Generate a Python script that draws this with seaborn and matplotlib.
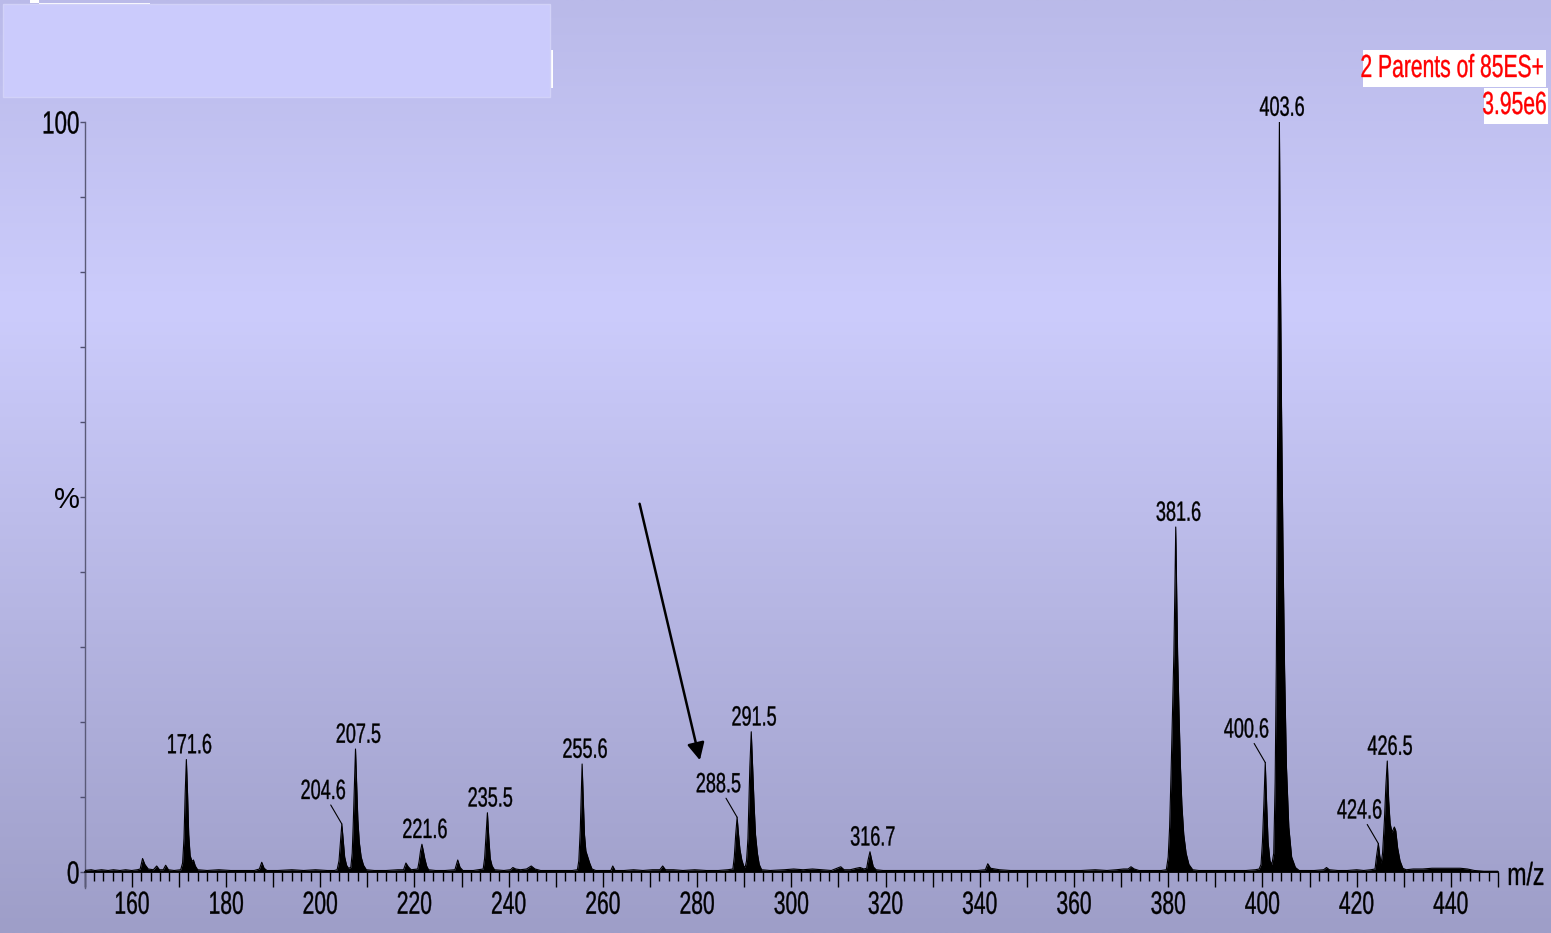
import numpy as np
import pandas as pd
import matplotlib
matplotlib.use("Agg")
import matplotlib.pyplot as plt
from matplotlib.patches import Rectangle
from matplotlib.patheffects import AbstractPathEffect
from matplotlib.transforms import Affine2D
import seaborn as sns

# ---- spectrum profile (m/z, relative intensity %) ----
profile_mz = [
    150.0, 151.4, 152.2, 153.6, 155.0, 156.1, 157.5, 158.7, 160.0, 161.2,
    161.8, 162.3, 162.8, 163.5, 164.6, 165.3, 165.9, 166.7, 167.2, 167.8, 169.0,
    170.4, 170.8, 171.1, 171.35, 171.6, 171.85, 172.1, 172.4, 172.8, 173.1, 173.5, 174.0,
    176.0, 178.5, 181.0, 183.5, 186.0, 187.1, 187.6, 188.1, 188.7,
    191.0, 194.0, 196.5, 199.0, 201.5, 203.0,
    203.6, 204.0, 204.3, 204.6, 204.9, 205.2, 205.6, 206.0,
    206.5, 206.8, 207.0, 207.25, 207.5, 207.75, 208.0, 208.3, 208.7, 209.2, 209.8,
    211.5, 214.0, 216.5, 217.7, 218.2, 218.7, 219.3,
    220.7, 221.0, 221.3, 221.6, 221.9, 222.2, 222.6, 223.0,
    224.5, 226.5, 228.6, 229.2, 229.7, 230.3, 232.5,
    234.6, 234.9, 235.2, 235.5, 235.8, 236.1, 236.5, 237.0,
    239.0, 240.4, 240.9, 241.5, 242.5, 243.8, 244.8, 245.6, 246.8, 248.5, 251.0, 253.5,
    254.6, 254.9, 255.2, 255.4, 255.6, 255.85, 256.1, 256.4, 256.8, 257.2, 257.7,
    258.5, 260.5, 261.7, 262.1, 262.6, 264.5, 266.5, 268.5, 270.5, 272.1, 272.7, 273.3, 275.0,
    277.0, 279.5, 282.0, 284.5, 286.5,
    287.6, 287.9, 288.2, 288.5, 288.8, 289.1, 289.5, 289.9, 290.2,
    290.5, 290.8, 291.0, 291.2, 291.5, 291.8, 292.1, 292.4, 292.8, 293.2, 293.7,
    295.5, 298.5, 300.5, 302.5, 304.5, 306.5, 308.5, 310.5, 311.2, 312.5, 313.8, 314.6, 315.4,
    316.0, 316.3, 316.7, 317.0, 317.4, 318.0, 319.5,
    322.0, 325.0, 328.0, 331.0, 334.0, 337.0, 339.5, 341.2, 341.7, 342.3, 343.2, 344.2,
    346.5, 349.5, 352.5, 355.5, 358.5, 361.5, 364.5, 367.0, 369.0, 370.5, 371.5, 372.1,
    372.8, 373.8, 376.0, 378.5,
    379.6, 380.0, 380.3, 380.6, 380.9, 381.2, 381.4, 381.6, 381.8, 382.0, 382.3, 382.6,
    382.9, 383.3, 383.8, 384.4, 385.2,
    386.5, 389.0, 391.5, 394.0, 396.5, 398.5, 399.3,
    399.7, 400.0, 400.3, 400.6, 400.9, 401.2, 401.6, 402.0,
    402.4, 402.7, 402.95, 403.15, 403.4, 403.6, 403.8, 404.05, 404.35, 404.7, 405.1,
    405.6, 406.2, 407.0, 407.8,
    409.0, 411.0, 413.0, 413.6, 414.2, 416.0, 418.0, 420.0, 421.5, 423.0,
    423.9, 424.2, 424.6, 424.9, 425.2, 425.5, 425.9, 426.2, 426.5, 426.8, 427.1, 427.5,
    428.0, 428.3, 428.7, 429.2, 429.8,
    430.5, 432.0, 434.0, 436.0, 438.0, 440.0, 442.0, 443.5, 445.0, 447.0, 450.0,
]
profile_pct = [
    0.2, 0.3, 0.2, 0.3, 0.2, 0.3, 0.2, 0.3, 0.2, 0.3,
    0.4, 1.8, 1.0, 0.4, 0.3, 0.8, 0.3, 0.3, 0.9, 0.3, 0.2,
    0.3, 1.2, 4.5, 10.5, 15.0, 10.5, 5.0, 2.2, 1.4, 1.6, 0.8, 0.3,
    0.2, 0.3, 0.2, 0.2, 0.2, 0.4, 1.3, 0.5, 0.2,
    0.2, 0.3, 0.2, 0.3, 0.2, 0.2,
    0.3, 1.5, 4.0, 6.4, 4.2, 2.0, 0.9, 0.5,
    0.6, 2.5, 6.0, 11.0, 16.4, 11.5, 7.0, 4.0, 2.0, 0.9, 0.3,
    0.2, 0.2, 0.3, 0.3, 1.2, 0.7, 0.3,
    0.4, 1.4, 2.8, 3.7, 2.8, 1.8, 0.8, 0.3,
    0.2, 0.2, 0.3, 1.6, 0.6, 0.2, 0.2,
    0.4, 1.8, 4.8, 7.9, 4.5, 1.8, 0.8, 0.3,
    0.2, 0.3, 0.6, 0.4, 0.3, 0.4, 0.8, 0.4, 0.2, 0.2, 0.2, 0.2,
    0.3, 1.5, 5.5, 10.0, 14.4, 9.5, 5.0, 2.8, 2.0, 1.2, 0.4,
    0.2, 0.2, 0.2, 0.8, 0.2, 0.2, 0.3, 0.2, 0.3, 0.3, 0.8, 0.3, 0.3,
    0.2, 0.3, 0.2, 0.2, 0.3,
    0.4, 2.0, 5.0, 7.3, 5.0, 3.0, 1.6, 0.8, 0.6,
    1.5, 4.5, 9.0, 14.0, 18.7, 14.0, 9.0, 5.0, 2.5, 1.0, 0.3,
    0.2, 0.3, 0.4, 0.3, 0.4, 0.3, 0.2, 0.7, 0.3, 0.3, 0.5, 0.6, 0.4,
    0.5, 1.6, 2.7, 1.8, 0.7, 0.3, 0.2,
    0.2, 0.2, 0.2, 0.2, 0.2, 0.2, 0.2, 0.3, 1.1, 0.5, 0.4, 0.3,
    0.2, 0.2, 0.2, 0.2, 0.2, 0.2, 0.3, 0.2, 0.3, 0.4, 0.4, 0.7,
    0.4, 0.2, 0.2, 0.2,
    0.3, 2.0, 6.0, 13.0, 21.0, 29.0, 37.0, 46.0, 37.0, 29.0, 21.0, 14.0,
    9.0, 5.0, 2.5, 1.0, 0.3,
    0.2, 0.2, 0.2, 0.2, 0.2, 0.3, 0.4,
    1.0, 4.0, 9.0, 14.6, 9.0, 4.0, 1.5, 1.0,
    2.5, 12.0, 28.0, 50.0, 80.0, 100.0, 82.0, 62.0, 44.0, 27.0, 14.0,
    6.0, 2.0, 0.6, 0.2,
    0.2, 0.2, 0.3, 0.6, 0.3, 0.2, 0.2, 0.3, 0.2, 0.3,
    0.4, 2.0, 3.8, 2.2, 1.2, 2.5, 7.0, 11.5, 14.8, 9.5, 6.5, 5.3,
    6.0, 5.5, 3.2, 1.5, 0.5,
    0.3, 0.4, 0.4, 0.5, 0.5, 0.5, 0.5, 0.4, 0.2, 0.1, 0.1,
]

# ---- annotated peaks ----
label_mz = [171.6, 204.6, 207.5, 221.6, 235.5, 255.6, 288.5, 291.5,
            316.7, 381.6, 400.6, 403.6, 424.6, 426.5]
leader_mz = [204.6, 288.5, 400.6, 424.6]   # labels set up-left with a leader line

x_ticks_labelled = [160, 180, 200, 220, 240, 260, 280, 300, 320, 340,
                    360, 380, 400, 420, 440]
y_tick_values = [0, 50, 100]
y_tick_labels = ["0", "%", "100"]

header_lines = ["2 Parents of 85ES+", "3.95e6"]


class Squeeze(AbstractPathEffect):
    """Draw text glyphs horizontally condensed about an anchor, lightly emboldened."""

    def __init__(self, sx, anchor="center", stroke=0.25):
        super().__init__()
        self.sx = sx
        self.anchor = anchor
        self.stroke = stroke

    def draw_path(self, renderer, gc, tpath, affine, rgbFace=None):
        ext = tpath.get_extents()
        a = {"center": 0.5 * (ext.x0 + ext.x1), "left": ext.x0,
             "right": ext.x1}[self.anchor]
        t = Affine2D().translate(-a, 0).scale(self.sx, 1).translate(a, 0) + affine
        gc2 = renderer.new_gc()
        gc2.copy_properties(gc)
        if self.stroke and rgbFace is not None:
            gc2.set_linewidth(self.stroke)
            gc2.set_foreground(rgbFace)
            gc2.set_joinstyle("round")
        renderer.draw_path(gc2, tpath, t, rgbFace)
        gc2.restore()


sns.set_theme(style="white")
plt.rcParams["font.family"] = ["Liberation Sans", "DejaVu Sans"]

W, H = 1551, 933
fig = plt.figure(figsize=(W / 100, H / 100), dpi=100)

# backdrop: soft vertical lavender gradient
bg = fig.add_axes([0, 0, 1, 1], zorder=-10)
rows = np.linspace(0, 1, 400)
stops = [0.0, 0.33, 1.0]
r = np.interp(rows, stops, [186, 204, 158])
g = np.interp(rows, stops, [186, 204, 158])
b = np.interp(rows, stops, [233, 252, 200])
grad = np.stack([r, g, b], axis=1)[:, None, :].repeat(2, axis=1) / 255.0
bg.imshow(grad, aspect="auto", extent=[0, 1, 0, 1], interpolation="bilinear")
bg.set_axis_off()

# main spectrum axes
x0, x1 = 84.6, 1498.0
y0, y1 = 872.0, 122.0
ax = fig.add_axes([x0 / W, 1 - y0 / H, (x1 - x0) / W, (y0 - y1) / H])
ax.patch.set_alpha(0)

df = pd.DataFrame({"mz": profile_mz, "pct": profile_pct})
ax.fill_between(df["mz"], 0, df["pct"], color="black", lw=0, zorder=2)
sns.lineplot(data=df, x="mz", y="pct", ax=ax, color="black", lw=0.8,
             estimator=None, sort=False, zorder=3)

ax.set_xlim(150, 450)
ax.set_ylim(0, 100)
ax.set_xlabel("")
ax.set_ylabel("")

# x axis: long ticks every 10, labels every 20, short ticks every 2
major_x = list(range(150, 451, 10))
ax.set_xticks(major_x)
ax.set_xticklabels([str(v) if v in x_ticks_labelled else "" for v in major_x])
ax.set_xticks(list(range(150, 451, 2)), minor=True)
ax.tick_params(axis="x", which="both", bottom=True)
ax.tick_params(axis="x", which="major", direction="out", length=10.5, width=1,
               color="black", pad=3, labelsize=23, labelcolor="black")
ax.tick_params(axis="x", which="minor", direction="out", length=6.3, width=1,
               color="black")

# y axis: 0 / % / 100 with small ticks every 10 %
ax.set_yticks(y_tick_values)
ax.set_yticklabels(y_tick_labels)
ax.set_yticks(list(range(0, 101, 10)), minor=True)
ax.tick_params(axis="y", which="both", left=True)
ax.tick_params(axis="y", which="major", direction="out", length=3.5, width=1,
               color="#505070", pad=0, labelsize=23, labelcolor="black")
ax.tick_params(axis="y", which="minor", direction="out", length=3.5, width=1,
               color="#505070")

for lbl in ax.get_xticklabels():
    lbl.set_path_effects([Squeeze(0.66, "center")])
for lbl in ax.get_yticklabels():
    if lbl.get_text() != "%":
        lbl.set_path_effects([Squeeze(0.7, "right")])
    else:
        lbl.set_fontsize(21)

for side in ("top", "right"):
    ax.spines[side].set_visible(False)
ax.spines["bottom"].set_color("black")
ax.spines["bottom"].set_linewidth(1.2)
ax.spines["left"].set_color("#5a5a78")
ax.spines["left"].set_linewidth(1.0)
ax.spines["left"].set_bounds(-2.1, 100)

# peak labels
apex = np.interp(label_mz, profile_mz, profile_pct)
for mz, h in zip(label_mz, apex):
    txt = f"{mz:.1f}"
    if mz in leader_mz:
        ax.annotate("", xy=(mz, h), xytext=(-8, 13.7), textcoords="offset points",
                    arrowprops=dict(arrowstyle="-", lw=0.8, color="black",
                                    shrinkA=0, shrinkB=0), annotation_clip=False)
        t = ax.annotate(txt, xy=(mz, h), xytext=(-13.5, 18), textcoords="offset points",
                        ha="center", va="baseline", fontsize=20, color="black",
                        annotation_clip=False)
    else:
        t = ax.annotate(txt, xy=(mz, h), xytext=(2, 4.5), textcoords="offset points",
                        ha="center", va="baseline", fontsize=20, color="black",
                        annotation_clip=False)
    t.set_path_effects([Squeeze(0.65, "center")])

# pointer arrow toward the 288.5 region
ax.annotate("", xy=(280.6, 14.9), xytext=(267.8, 49.1),
            arrowprops=dict(arrowstyle="-|>", lw=1.8, color="black",
                            mutation_scale=26, shrinkA=0, shrinkB=0))

# axis unit label
mz_txt = fig.text(1545 / W, 1 - 877 / H, "m/z", ha="right", va="center",
                  fontsize=23, color="black")
mz_txt.set_path_effects([Squeeze(0.72, "right")])

# header in red at top right, on white strips
fig.patches.append(Rectangle((1363 / W, 1 - 87 / H), 183 / W, 37 / H,
                             transform=fig.transFigure, facecolor="white",
                             edgecolor="none", zorder=1))
fig.patches.append(Rectangle((1484 / W, 1 - 124 / H), 64 / W, 36 / H,
                             transform=fig.transFigure, facecolor="white",
                             edgecolor="none", zorder=1))
h1 = fig.text(1545 / W, 1 - 69 / H, header_lines[0], ha="right", va="center",
              fontsize=23, color="#ff0000", zorder=3)
h2 = fig.text(1547 / W, 1 - 106 / H, header_lines[1], ha="right", va="center",
              fontsize=23, color="#ff0000", zorder=3)
h1.set_path_effects([Squeeze(0.66, "right")])
h2.set_path_effects([Squeeze(0.66, "right")])

# title panel at top left
fig.patches.append(Rectangle((549 / W, 1 - 88 / H), 4 / W, 38 / H,
                             transform=fig.transFigure, facecolor="white",
                             edgecolor="none", zorder=1))
fig.text(553 / W, 1 - 69 / H, ")", ha="right", va="center", fontsize=23,
         color="#ff0000", zorder=2)
fig.patches.append(Rectangle((30 / W, 1 - 3 / H), 9 / W, 3 / H,
                             transform=fig.transFigure, facecolor="white",
                             edgecolor="none", zorder=4))
fig.patches.append(Rectangle((39 / W, 1 - 4 / H), 111 / W, 1.2 / H,
                             transform=fig.transFigure, facecolor="white",
                             edgecolor="none", zorder=4))
fig.patches.append(Rectangle((3 / W, 1 - 97 / H), 547 / W, 93 / H,
                             transform=fig.transFigure, facecolor="#cbcbfc",
                             edgecolor="#d2d2f8", lw=1, zorder=5))

fig.savefig("out.png", dpi=100)
